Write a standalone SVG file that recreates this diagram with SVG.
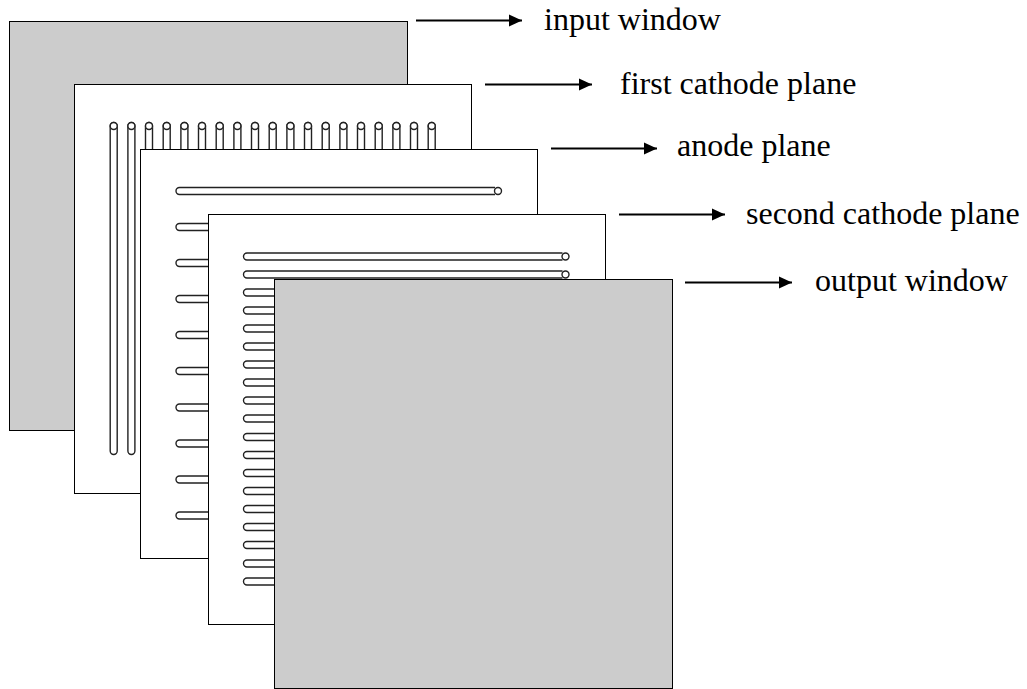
<svg xmlns="http://www.w3.org/2000/svg" width="1027" height="689" viewBox="0 0 1027 689">
<style>
.win{fill:#ccc;stroke:#000;stroke-width:1}
.pl{fill:#fff;stroke:#000;stroke-width:1}
.t{fill:#fff;stroke:#222;stroke-width:1.4}
.e{fill:#fff;stroke:#222;stroke-width:1.4}
.lbl{font-family:"Liberation Serif","Times New Roman",serif;font-size:32px;fill:#000}
.a{stroke:#000;stroke-width:2;fill:none;marker-end:url(#ah)}
</style>
<defs>
<marker id="ah" markerUnits="userSpaceOnUse" markerWidth="14" markerHeight="14" refX="13" refY="6.5" orient="auto"><path d="M0 0.500L13 6.500L0 12.500Z" fill="#000"/></marker>
<g id="vt"><path class="t" d="M-3.500 329V4A3.500 3.500 0 0 1 3.500 4V329A3.500 3.500 0 0 1 -3.500 329Z"/><circle class="e" cx="0" cy="4" r="3.500"/></g>
<path id="hl" class="t" d="M100 -3.500H3.500A3.500 3.500 0 0 0 3.500 3.500H100"/>
<g id="ha"><path class="t" d="M319 -3.500H3.500A3.500 3.500 0 0 0 3.500 3.500H319"/><circle class="e" cx="322" cy="0" r="3.500"/></g>
</defs>
<g id="input-window"><rect class="win" x="9.500" y="21.500" width="398" height="409"/></g>
<g id="first-cathode-plane">
<rect class="pl" x="74.500" y="84.500" width="397" height="409"/>
<use href="#vt" x="113.700" y="122"/><use href="#vt" x="131.400" y="122"/><use href="#vt" x="149" y="122"/><use href="#vt" x="166.700" y="122"/><use href="#vt" x="184.400" y="122"/><use href="#vt" x="202" y="122"/><use href="#vt" x="219.700" y="122"/><use href="#vt" x="237.400" y="122"/><use href="#vt" x="255" y="122"/><use href="#vt" x="272.700" y="122"/><use href="#vt" x="290.400" y="122"/><use href="#vt" x="308" y="122"/><use href="#vt" x="325.700" y="122"/><use href="#vt" x="343.400" y="122"/><use href="#vt" x="361" y="122"/><use href="#vt" x="378.700" y="122"/><use href="#vt" x="396.400" y="122"/><use href="#vt" x="414" y="122"/><use href="#vt" x="431.700" y="122"/>
</g>
<g id="anode-plane">
<rect class="pl" x="140.500" y="149.500" width="397" height="409"/>
<use href="#ha" x="176" y="191"/>
<use href="#hl" x="176" y="227"/><use href="#hl" x="176" y="263"/><use href="#hl" x="176" y="299"/><use href="#hl" x="176" y="335"/><use href="#hl" x="176" y="371"/><use href="#hl" x="176" y="407.500"/><use href="#hl" x="176" y="443.500"/><use href="#hl" x="176" y="479.500"/><use href="#hl" x="176" y="515.500"/>
</g>
<g id="second-cathode-plane">
<rect class="pl" x="208.500" y="214.500" width="397" height="410"/>
<use href="#ha" x="243.500" y="256.500"/><use href="#ha" x="243.500" y="274.500"/>
<use href="#hl" x="243.500" y="292.500"/><use href="#hl" x="243.500" y="310.500"/><use href="#hl" x="243.500" y="328.500"/><use href="#hl" x="243.500" y="346.500"/><use href="#hl" x="243.500" y="364.500"/><use href="#hl" x="243.500" y="382.500"/><use href="#hl" x="243.500" y="400.500"/><use href="#hl" x="243.500" y="418.500"/><use href="#hl" x="243.500" y="437"/><use href="#hl" x="243.500" y="455"/><use href="#hl" x="243.500" y="473"/><use href="#hl" x="243.500" y="491"/><use href="#hl" x="243.500" y="509"/><use href="#hl" x="243.500" y="527"/><use href="#hl" x="243.500" y="545"/><use href="#hl" x="243.500" y="563.500"/><use href="#hl" x="243.500" y="581.500"/>
</g>
<g id="output-window"><rect class="win" x="274.500" y="279.500" width="398" height="409"/></g>
<g id="connectors">
<line class="a" x1="416" y1="20.500" x2="522" y2="20.500"/>
<line class="a" x1="485" y1="84.500" x2="592" y2="84.500"/>
<line class="a" x1="551" y1="148.500" x2="657" y2="148.500"/>
<line class="a" x1="619" y1="214.500" x2="725" y2="214.500"/>
<line class="a" x1="685" y1="282.500" x2="792" y2="282.500"/>
</g>
<g id="labels">
<text class="lbl" x="544" y="30">input window</text>
<text class="lbl" x="620" y="94">first cathode plane</text>
<text class="lbl" x="677" y="156">anode plane</text>
<text class="lbl" x="746" y="224">second cathode plane</text>
<text class="lbl" x="815" y="291">output window</text>
</g>
</svg>
